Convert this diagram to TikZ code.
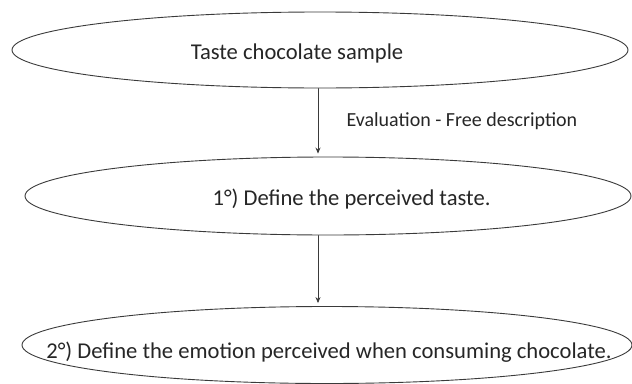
\documentclass[tikz,border=0pt]{standalone}
\usepackage{fontspec}
\setmainfont{Carlito}
\usetikzlibrary{shapes.geometric,arrows.meta}
\definecolor{inkgray}{HTML}{262626}
\definecolor{linegray}{HTML}{3A3A3A}
\begin{document}
\begin{tikzpicture}[line cap=round,line join=round,>={Stealth[length=6pt,width=5pt]},x=1pt,y=-1pt,
	oval/.style={ellipse,draw=linegray,line width=0.9pt,inner sep=0pt},
	steptext/.style={anchor=base,text=inkgray,font=\fontsize{22.6}{27}\selectfont},
	flow/.style={->,draw=linegray,line width=0.7pt,shorten >=3pt}]
		\useasboundingbox (0,0) rectangle (632,383);
		% ovals
		\node[oval,minimum width=616pt,minimum height=76pt] (taste) at (320,50) {};
		\node[oval,minimum width=606pt,minimum height=78pt] (first) at (328,196) {};
		\node[oval,minimum width=610pt,minimum height=77pt] (second) at (327,345) {};
		% texts
		\node[steptext] (tastetext) at (297,59) {Taste chocolate sample};
		\node[steptext] (firsttext) at (351.5,205) {1°) Define the perceived taste.};
		\node[steptext] (secondtext) at (329,358) {2°) Define the emotion perceived when consuming chocolate.};
		% arrows
		\coordinate (axis) at (318,0);
		\draw[flow] (taste.south -| axis) -- (first.north -| axis);
		\draw[flow] (first.south -| axis) -- (second.north -| axis);
		\node[anchor=base west,text=inkgray,font=\fontsize{20}{24}\selectfont] (evaltext) at (343,126) {Evaluation - Free description};
	\end{tikzpicture}
\end{document}
